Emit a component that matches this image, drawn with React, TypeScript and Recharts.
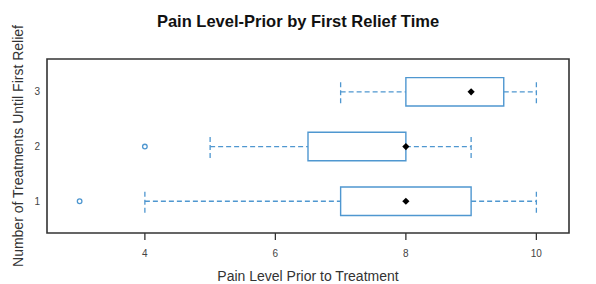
import React from 'react';
import {
  ComposedChart,
  XAxis,
  YAxis,
  Scatter,
  ReferenceArea,
  ReferenceLine,
  Label,
  Customized,
} from 'recharts';

// Groups: number of treatments until first relief
const groups = [1, 2, 3];
// Five-number summaries of pain level prior to treatment
const whiskerLow = [4, 5, 7];
const q1 = [7, 6.5, 8];
const medians = [8, 8, 9];
const q3 = [9, 8, 9.5];
const whiskerHigh = [10, 9, 10];
// Outliers
const outlierValues = [3, 4];
const outlierGroups = [1, 2];
// Axis ticks
const xTicks = [4, 6, 8, 10];
const yTicks = [1, 2, 3];
const xDomain: [number, number] = [2.5, 10.5];
const yDomain: [number, number] = [0.42, 3.6];

const BLUE = '#4f97d0';
const FRAME = '#333333';
const FONT = '"Liberation Sans", Arial, sans-serif';
const BOX_HALF = 0.26;
const CAP_HALF = 0.21;

const medianData = groups.map((g, i) => ({ x: medians[i], y: g }));
const outlierData = outlierValues.map((v, i) => ({ x: v, y: outlierGroups[i] }));

const YTick = (props: any) => {
  const { x, y, payload } = props;
  return (
    <text
      x={x}
      y={y}
      textAnchor="end"
      dominantBaseline="central"
      fontSize={10}
      fill="#444"
      fontFamily={FONT}
    >
      {payload.value}
    </text>
  );
};

const Title = () => (
  <text
    x={298}
    y={26.5}
    textAnchor="middle"
    fontSize={16.5}
    fontWeight="bold"
    fill="#111"
    fontFamily={FONT}
  >
    Pain Level-Prior by First Relief Time
  </text>
);

export default function App() {
  return (
    <div style={{ position: 'absolute', left: 0, top: 0, width: 596, height: 284, background: '#fff' }}>
      <ComposedChart
        width={596}
        height={284}
        margin={{ top: 49, right: 27, bottom: 0, left: 0 }}
      >
        <XAxis
          xAxisId="bottom"
          type="number"
          dataKey="x"
          domain={xDomain}
          ticks={xTicks}
          allowDataOverflow
          height={51}
          axisLine={false}
          tickSize={7}
          tickMargin={10}
          tickLine={{ stroke: FRAME, strokeWidth: 1.3 }}
          tick={{ fontSize: 10, fill: '#444', fontFamily: FONT }}
        >
          <Label
            value="Pain Level Prior to Treatment"
            position="insideBottom"
            offset={3}
            style={{ fontSize: 14, fill: '#333', fontFamily: FONT }}
          />
        </XAxis>
        <XAxis
          xAxisId="top"
          orientation="top"
          type="number"
          dataKey="x"
          domain={xDomain}
          ticks={xTicks}
          allowDataOverflow
          height={10}
          axisLine={false}
          tickSize={7}
          tickLine={{ stroke: FRAME, strokeWidth: 1.3 }}
          tick={false}
        />
        <YAxis
          type="number"
          dataKey="y"
          domain={yDomain}
          ticks={yTicks}
          allowDataOverflow
          width={47}
          axisLine={false}
          tickLine={false}
          tickSize={0}
          tickMargin={7}
          tick={<YTick />}
        >
          <Label
            content={(p: any) => {
              const vb = p.viewBox;
              const cx = 18;
              const cy = vb.y + vb.height / 2;
              return (
                <text
                  x={cx}
                  y={cy}
                  transform={`rotate(-90 ${cx} ${cy})`}
                  textAnchor="middle"
                  dominantBaseline="central"
                  fontSize={14}
                  fill="#333"
                  fontFamily={FONT}
                >
                  Number of Treatments Until First Relief
                </text>
              );
            }}
          />
        </YAxis>

        {groups.map((g, i) => (
          <ReferenceLine
            key={`wl${g}`}
            xAxisId="bottom"
            segment={[{ x: whiskerLow[i], y: g }, { x: q1[i], y: g }]}
            stroke={BLUE}
            strokeWidth={1.3}
            strokeDasharray="5 3"
            isFront
          />
        ))}
        {groups.map((g, i) => (
          <ReferenceLine
            key={`wh${g}`}
            xAxisId="bottom"
            segment={[{ x: q3[i], y: g }, { x: whiskerHigh[i], y: g }]}
            stroke={BLUE}
            strokeWidth={1.3}
            strokeDasharray="5 3"
            isFront
          />
        ))}
        {groups.map((g, i) => (
          <ReferenceLine
            key={`cl${g}`}
            xAxisId="bottom"
            segment={[{ x: whiskerLow[i], y: g - CAP_HALF }, { x: whiskerLow[i], y: g + CAP_HALF }]}
            stroke={BLUE}
            strokeWidth={1.3}
            strokeDasharray="5 3"
            isFront
          />
        ))}
        {groups.map((g, i) => (
          <ReferenceLine
            key={`ch${g}`}
            xAxisId="bottom"
            segment={[{ x: whiskerHigh[i], y: g - CAP_HALF }, { x: whiskerHigh[i], y: g + CAP_HALF }]}
            stroke={BLUE}
            strokeWidth={1.3}
            strokeDasharray="5 3"
            isFront
          />
        ))}
        {groups.map((g, i) => (
          <ReferenceArea
            key={`box${g}`}
            xAxisId="bottom"
            x1={q1[i]}
            x2={q3[i]}
            y1={g - BOX_HALF}
            y2={g + BOX_HALF}
            fill="#ffffff"
            fillOpacity={1}
            stroke={BLUE}
            strokeWidth={1.4}
            isFront
          />
        ))}
        <ReferenceArea
          xAxisId="bottom"
          x1={xDomain[0]}
          x2={xDomain[1]}
          y1={yDomain[0]}
          y2={yDomain[1]}
          fill="none"
          stroke={FRAME}
          strokeWidth={1.6}
          isFront
        />
        <Scatter
          xAxisId="bottom"
          data={outlierData}
          isAnimationActive={false}
          shape={(p: any) => (
            <circle cx={p.cx} cy={p.cy} r={2.3} fill="#fff" stroke={BLUE} strokeWidth={1.3} />
          )}
        />
        <Scatter
          xAxisId="bottom"
          data={medianData}
          isAnimationActive={false}
          shape={(p: any) => (
            <path
              d={`M${p.cx},${p.cy - 3.6} L${p.cx + 3.6},${p.cy} L${p.cx},${p.cy + 3.6} L${p.cx - 3.6},${p.cy} Z`}
              fill="#000"
            />
          )}
        />
        <Customized component={Title} />
      </ComposedChart>
    </div>
  );
}
